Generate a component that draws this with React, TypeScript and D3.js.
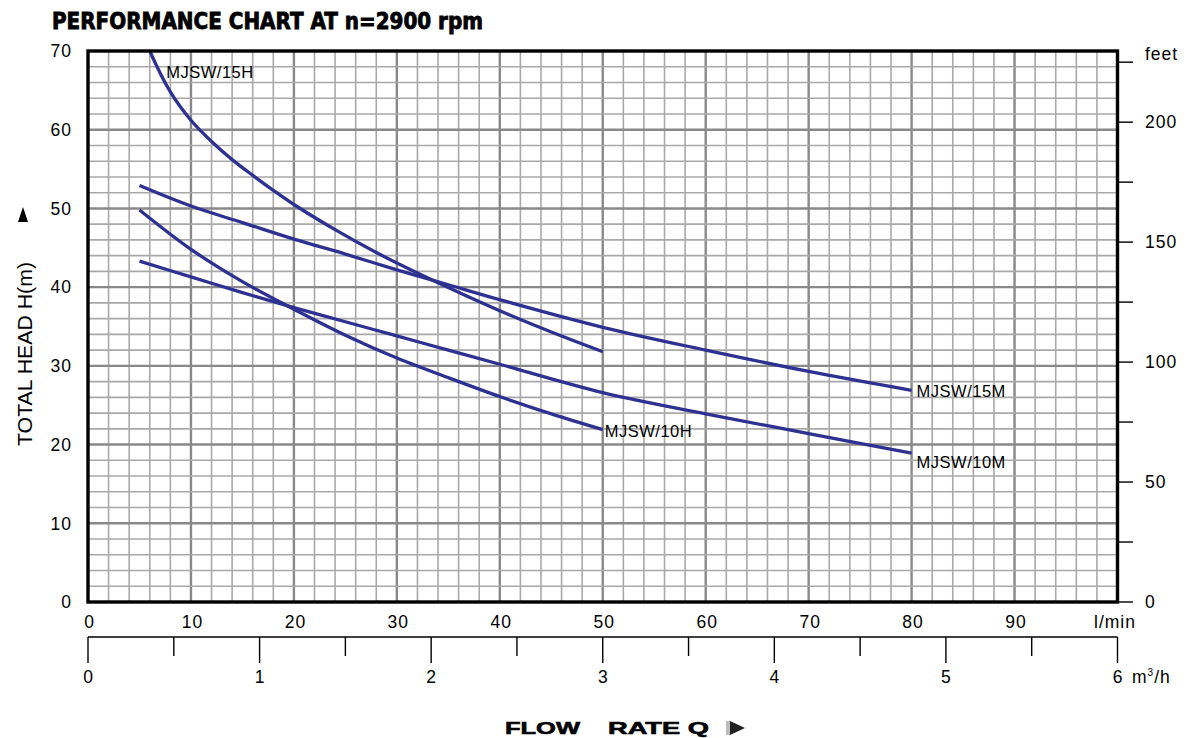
import { useEffect, useRef } from 'react';
import * as d3 from 'd3';

// flow (l/min) and head (m)
const Q_15H = [5, 6, 8, 10, 12, 14, 16, 18, 20, 24, 28, 32, 40, 45, 50];
const H_15H = [73.3, 70, 64.8, 61.2, 58.5, 56.2, 54.2, 52.3, 50.5, 47.3, 44.4, 41.8, 37.0, 34.3, 31.8];

const Q_15M = [5, 10, 15, 20, 25, 30, 35, 40, 50, 60, 70, 80];
const H_15M = [52.9, 50.3, 48.2, 46.1, 44.2, 42.2, 40.3, 38.4, 34.9, 32.0, 29.3, 26.9];

const Q_10H = [5, 10, 15, 20, 25, 30, 35, 40, 45, 50];
const H_10H = [49.8, 44.8, 40.7, 37.2, 33.9, 31.0, 28.5, 26.1, 23.9, 21.9];

const Q_10M = [5, 10, 15, 20, 25, 30, 35, 40, 50, 60, 70, 80];
const H_10M = [43.3, 41.3, 39.3, 37.4, 35.6, 33.8, 32.0, 30.2, 26.6, 23.9, 21.4, 18.9];

const SERIES = ['MJSW/15H', 'MJSW/15M', 'MJSW/10H', 'MJSW/10M'];

const HEAD_TICKS = [0, 10, 20, 30, 40, 50, 60, 70];
const FLOW_TICKS = [0, 10, 20, 30, 40, 50, 60, 70, 80, 90];
const FEET_LABELS = [0, 50, 100, 150, 200];
const M3H_LABELS = [0, 1, 2, 3, 4, 5, 6];

const W = 1184;
const H = 738;
const LINE = '#2e3192';
const SANS = "'Liberation Sans', Arial, Helvetica, sans-serif";

export default function App() {
  const svgRef = useRef<SVGSVGElement>(null);

  useEffect(() => {
    if (!svgRef.current) return;
    const svg = d3.select(svgRef.current);
    svg.selectAll('*').remove();

    const left = 88, right = 1117.5, top = 51, bottom = 602;
    const x = d3.scaleLinear().domain([0, 100]).range([left, right]);
    const y = d3.scaleLinear().domain([0, 70]).range([bottom, top]);
    const yFeet = d3.scaleLinear().domain([0, 70 / 0.3048]).range([bottom, top]);
    const xM3 = d3.scaleLinear().domain([0, 6]).range([left, right]);

    svg.append('rect').attr('width', W).attr('height', H).attr('fill', '#fff');

    svg.append('defs').append('clipPath').attr('id', 'plot-clip')
      .append('rect')
      .attr('x', left).attr('y', top)
      .attr('width', right - left).attr('height', bottom - top);

    // grid: minor every 2, major every 10
    const grid = svg.append('g');
    d3.range(2, 100, 2).forEach(v => {
      const major = v % 10 === 0;
      grid.append('line')
        .attr('x1', x(v)).attr('x2', x(v))
        .attr('y1', top).attr('y2', bottom)
        .attr('stroke', major ? '#898989' : '#a9a9a9')
        .attr('stroke-width', major ? 2.4 : 1.6);
    });
    d3.range(2, 70, 2).forEach(v => {
      const major = v % 10 === 0;
      grid.append('line')
        .attr('x1', left).attr('x2', right)
        .attr('y1', y(v)).attr('y2', y(v))
        .attr('stroke', major ? '#898989' : '#a9a9a9')
        .attr('stroke-width', major ? 2.4 : 1.6);
    });

    // curves
    const line = d3.line<[number, number]>()
      .x(d => x(d[0]))
      .y(d => y(d[1]))
      .curve(d3.curveCatmullRom.alpha(0.5));

    const curves: [number[], number[]][] = [
      [Q_15H, H_15H], [Q_15M, H_15M], [Q_10H, H_10H], [Q_10M, H_10M]
    ];
    const curveG = svg.append('g').attr('clip-path', 'url(#plot-clip)');
    curves.forEach(([qs, hs]) => {
      curveG.append('path')
        .attr('d', line(qs.map((q, i) => [q, hs[i]] as [number, number])))
        .attr('fill', 'none')
        .attr('stroke', LINE)
        .attr('stroke-width', 3.3)
        .attr('stroke-linecap', 'butt');
    });

    // frame
    svg.append('rect')
      .attr('x', left).attr('y', top)
      .attr('width', right - left).attr('height', bottom - top)
      .attr('fill', 'none')
      .attr('stroke', '#000')
      .attr('stroke-width', 3.4);

    // curve labels
    const labelAt: [number, number, number, number][] = [
      [x(7.6), y(67.3) + 6, 0, 0],
      [x(80), y(26.9), 5, 7],
      [x(50), y(21.9), 2, 7],
      [x(80), y(18.9), 5, 15]
    ];
    SERIES.forEach((name, i) => {
      const [lx, ly, dx, dy] = labelAt[i];
      svg.append('text')
        .attr('x', lx + dx).attr('y', ly + dy)
        .attr('font-family', SANS)
        .attr('font-size', 16.5)
        .attr('letter-spacing', 0.5)
        .attr('fill', '#000')
        .text(name);
    });

    const tickText = (sel: d3.Selection<SVGTextElement, unknown, null, undefined>) =>
      sel.attr('font-family', SANS)
        .attr('font-size', 17.5)
        .attr('letter-spacing', 1);

    // left axis labels
    HEAD_TICKS.forEach(v => {
      svg.append('text')
        .attr('x', 72).attr('y', y(v))
        .attr('dy', '0.36em')
        .attr('text-anchor', 'end')
        .call(tickText)
        .text(v);
    });

    // right axis (feet)
    d3.range(0, 226, 25).forEach(v => {
      svg.append('line')
        .attr('x1', right).attr('x2', 1133)
        .attr('y1', yFeet(v)).attr('y2', yFeet(v))
        .attr('stroke', '#000').attr('stroke-width', 1.4);
    });
    FEET_LABELS.forEach(v => {
      svg.append('text')
        .attr('x', 1145).attr('y', yFeet(v))
        .attr('dy', '0.36em')
        .call(tickText)
        .text(v);
    });
    svg.append('text')
      .attr('x', 1145).attr('y', 60)
      .call(tickText)
      .text('feet');

    // bottom l/min labels
    FLOW_TICKS.forEach(v => {
      svg.append('text')
        .attr('x', x(v) + 1.5).attr('y', 628)
        .attr('text-anchor', 'middle')
        .call(tickText)
        .text(v);
    });
    svg.append('text')
      .attr('x', 1115).attr('y', 628)
      .attr('text-anchor', 'middle')
      .call(tickText)
      .text('l/min');

    // m3/h axis
    const axY = 637;
    svg.append('line')
      .attr('x1', xM3(0)).attr('x2', xM3(6))
      .attr('y1', axY).attr('y2', axY)
      .attr('stroke', '#000').attr('stroke-width', 1.4);
    d3.range(0, 6.01, 0.5).forEach(v => {
      const major = Number.isInteger(v);
      svg.append('line')
        .attr('x1', xM3(v)).attr('x2', xM3(v))
        .attr('y1', axY).attr('y2', major ? 663 : 656)
        .attr('stroke', '#000').attr('stroke-width', 1.4);
    });
    M3H_LABELS.forEach(v => {
      svg.append('text')
        .attr('x', xM3(v) + 0.5).attr('y', 683)
        .attr('text-anchor', 'middle')
        .call(tickText)
        .text(v);
    });
    const unit = svg.append('text')
      .attr('x', 1132).attr('y', 683)
      .call(tickText);
    unit.append('tspan').text('m');
    unit.append('tspan').attr('font-size', 10).attr('dy', -7).text('3');
    unit.append('tspan').attr('dy', 7).text('/h');

    // title
    svg.append('text')
      .attr('x', 52).attr('y', 29)
      .attr('font-family', "'Liberation Sans Narrow', 'DejaVu Sans Condensed', sans-serif")
      .attr('font-weight', 'bold')
      .attr('font-size', 23)
      .attr('stroke', '#000')
      .attr('stroke-width', 0.8)
      .attr('textLength', 431)
      .attr('lengthAdjust', 'spacingAndGlyphs')
      .text('PERFORMANCE CHART AT n=2900 rpm');

    // y-axis title
    svg.append('text')
      .attr('transform', 'translate(32, 354) rotate(-90)')
      .attr('text-anchor', 'middle')
      .attr('font-family', SANS)
      .attr('font-size', 20)
      .attr('textLength', 184)
      .attr('lengthAdjust', 'spacingAndGlyphs')
      .text('TOTAL HEAD H(m)');
    svg.append('path')
      .attr('d', 'M23,207 L28,222 L18,222 Z')
      .attr('fill', '#000');

    // x-axis title
    svg.append('text')
      .attr('x', 505).attr('y', 734)
      .attr('font-family', SANS)
      .attr('font-weight', 'bold')
      .attr('font-size', 17)
      .attr('stroke', '#000')
      .attr('stroke-width', 0.6)
      .attr('textLength', 75)
      .attr('lengthAdjust', 'spacingAndGlyphs')
      .text('FLOW');
    svg.append('text')
      .attr('x', 608).attr('y', 734)
      .attr('font-family', SANS)
      .attr('font-weight', 'bold')
      .attr('font-size', 17)
      .attr('stroke', '#000')
      .attr('stroke-width', 0.6)
      .attr('textLength', 101)
      .attr('lengthAdjust', 'spacingAndGlyphs')
      .text('RATE Q');
    svg.append('rect')
      .attr('x', 726).attr('y', 721).attr('width', 4).attr('height', 14)
      .attr('fill', '#bbb');
    svg.append('path')
      .attr('d', 'M730,721 L745,728 L730,735 Z')
      .attr('fill', '#222');
  }, []);

  return (
    <svg
      ref={svgRef}
      width={W}
      height={H}
      style={{ position: 'absolute', left: 0, top: 0, display: 'block' }}
    ></svg>
  );
}
